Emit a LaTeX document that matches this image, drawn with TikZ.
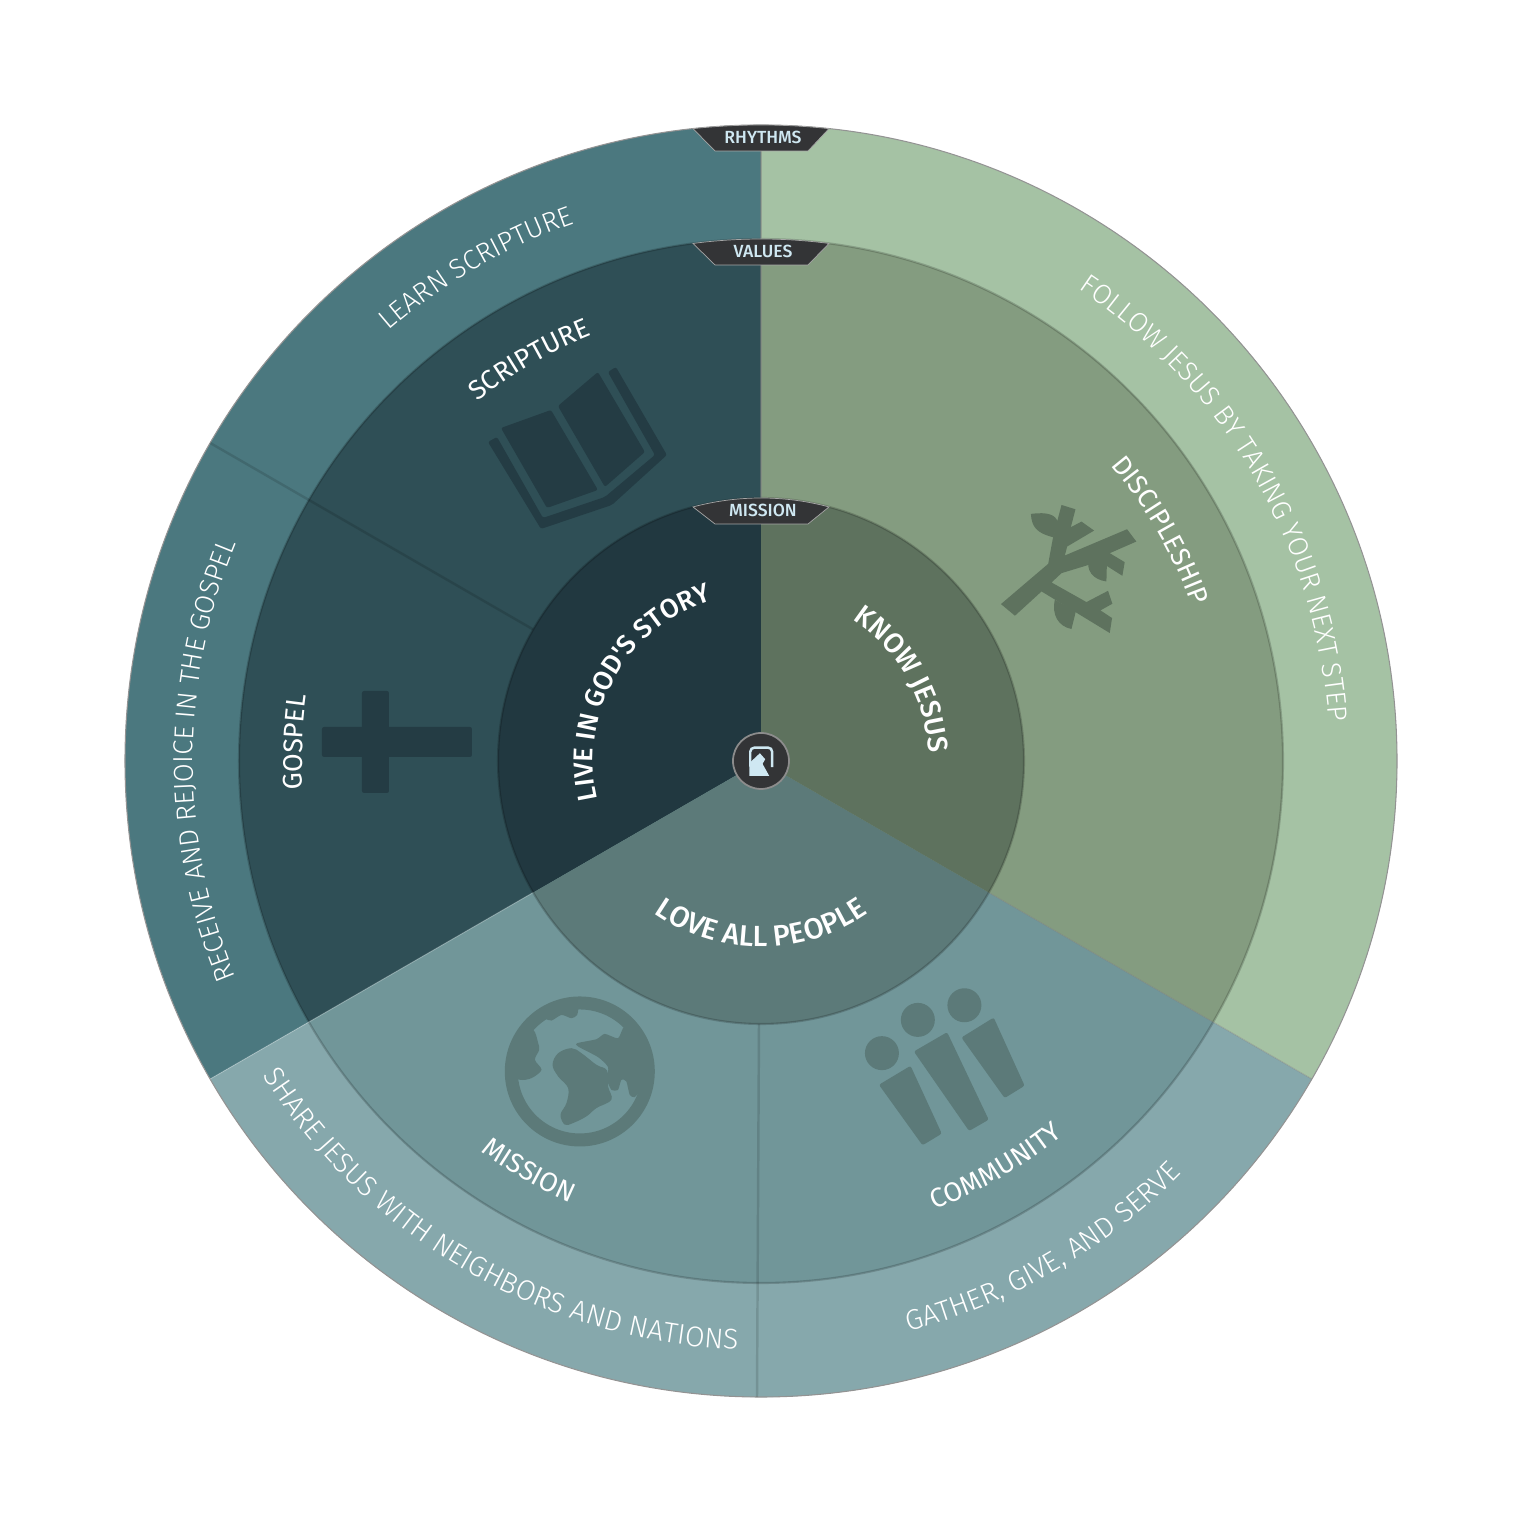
\documentclass[tikz,border=0pt]{standalone}
\usepackage{fontspec}
\usepackage{xcolor}
\usetikzlibrary{decorations.text}
\setmainfont{Fira Sans}
\newfontfamily\lightfont{Fira Sans}[UprightFont=* Light]
\newfontfamily\mediumfont{Fira Sans}[UprightFont=* Medium]
\definecolor{tealouter}{HTML}{4B787F}
\definecolor{tealmid}{HTML}{2F4F56}
\definecolor{tealinner}{HTML}{213840}
\definecolor{tealicon}{HTML}{243C44}
\definecolor{greenouter}{HTML}{A5C2A4}
\definecolor{greenmid}{HTML}{849C80}
\definecolor{greeninner}{HTML}{5E725E}
\definecolor{paleouter}{HTML}{86A8AC}
\definecolor{palemid}{HTML}{719699}
\definecolor{paleinner}{HTML}{5C7A79}
\definecolor{tagdark}{HTML}{333436}
\definecolor{tagtext}{HTML}{CFE8F2}
\newcommand{\ringfont}{\lightfont\fontsize{7.8}{9}\selectfont}
\newcommand{\lowringfont}{\lightfont\fontsize{8.1}{9}\selectfont}
\newcommand{\midfont}{\fontsize{7.7}{9}\selectfont}
\newcommand{\corefont}{\mediumfont\fontsize{8}{9}\selectfont}
\newcommand{\storyfont}{\mediumfont\fontsize{7.7}{9}\selectfont}
\newcommand{\peoplefont}{\mediumfont\fontsize{8.3}{9}\selectfont}
% text on an arc: radius, start angle, end angle, font, text
\newcommand{\arclabel}[5]{\path[decorate,decoration={text along path,text align=center,text color=white,text={|#4|#5}}] (#2:#1) arc[start angle=#2,end angle=#3,radius=#1];}
% dark tag on the top of a ring: radius, name, text
\newcommand{\ringtag}[3]{\fill[tagdark,draw=gray!70,line width=0.2pt] ({90+asin(0.68/#1)}:#1) arc[start angle={90+asin(0.68/#1)},end angle={90-asin(0.68/#1)},radius=#1] -- (0.47,#1-0.26) -- (-0.46,#1-0.26) -- cycle;
\node[tagtag] (#2) at (0.02,#1-0.12) {#3};}
\begin{document}
\begin{tikzpicture}[every node/.style={font=\small},
  ringline/.style={draw=black,draw opacity=0.18,line width=0.6pt},
  divider/.style={draw=black,draw opacity=0.13,line width=0.7pt},
  tagtag/.style={text=tagtext,inner sep=0pt,font=\mediumfont\fontsize{5}{5}\selectfont},
  darkicon/.style={fill=tealicon,rounded corners=0.6pt},
  paleicon/.style={fill=paleinner,rounded corners=0.6pt},
  greenicon/.style={fill=greeninner}]
\useasboundingbox (-7.61,-7.61) rectangle (7.61,7.61);
% outer ring
\fill[tealouter] (0,0) -- (90:6.36) arc[start angle=90,end angle=210,radius=6.36] -- cycle;
\fill[paleouter] (0,0) -- (210:6.36) arc[start angle=210,end angle=330,radius=6.36] -- cycle;
\fill[greenouter] (0,0) -- (-30:6.36) arc[start angle=-30,end angle=90,radius=6.36] -- cycle;
\draw[gray!85,line width=0.3pt] (0,0) circle[radius=6.36];
% middle ring
\fill[tealmid] (0,0) -- (90:5.22) arc[start angle=90,end angle=210,radius=5.22] -- cycle;
\fill[palemid] (0,0) -- (210:5.22) arc[start angle=210,end angle=330,radius=5.22] -- cycle;
\fill[greenmid] (0,0) -- (-30:5.22) arc[start angle=-30,end angle=90,radius=5.22] -- cycle;
\draw[ringline] (0,0) circle[radius=5.22];
% dividers
\draw[divider] (150:2.63) -- (150:6.36);
\draw[divider] (-0.02,-2.63) -- (-0.04,-6.36);
\draw[gray,draw opacity=0.5,line width=0.3pt] (0,2.63) -- (0,6.36);
\draw[white,draw opacity=0.25,line width=0.3pt] (210:2.63) -- (210:6.36);
\draw[gray,draw opacity=0.4,line width=0.3pt] (-30:2.63) -- (-30:6.36);
% inner ring
\fill[tealinner] (0,0) -- (90:2.63) arc[start angle=90,end angle=210,radius=2.63] -- cycle;
\fill[paleinner] (0,0) -- (210:2.63) arc[start angle=210,end angle=330,radius=2.63] -- cycle;
\fill[greeninner] (0,0) -- (-30:2.63) arc[start angle=-30,end angle=90,radius=2.63] -- cycle;
\draw[ringline] (0,0) circle[radius=2.63];
% outer texts
\arclabel{5.69}{65}{-5}{\ringfont}{FOLLOW JESUS BY TAKING YOUR NEXT STEP}
\arclabel{5.69}{150}{90}{\ringfont}{LEARN SCRIPTURE}
\arclabel{5.68}{210}{150}{\ringfont}{RECEIVE AND REJOICE IN THE GOSPEL}
\arclabel{5.89}{205}{275}{\lowringfont}{SHARE JESUS WITH NEIGHBORS AND NATIONS}
\arclabel{5.89}{265}{335}{\lowringfont}{GATHER, GIVE, AND SERVE}
% values
\arclabel{4.58}{60}{0}{\midfont}{DISCIPLESHIP}
\arclabel{4.58}{150}{90}{\midfont}{SCRIPTURE}
\arclabel{4.59}{207.7}{147.7}{\midfont}{GOSPEL}
\arclabel{4.81}{210.5}{270.5}{\midfont}{MISSION}
\arclabel{4.81}{270}{330}{\midfont}{COMMUNITY}
% mission
\arclabel{1.68}{70}{-10}{\corefont}{KNOW JESUS}
\arclabel{1.68}{210}{90}{\storyfont}{LIVE IN GOD'S STORY}
\arclabel{1.86}{220}{320}{\peoplefont}{LOVE ALL PEOPLE}
% book
\begin{scope}[shift={(-2.73cm,3.29cm)},x=0.01cm,y=-0.01cm]
\fill[darkicon] (13,-4) -- (63,-22) -- (110,58) -- (59,76) -- cycle;
\fill[darkicon] (70,-26) -- (110,-60) -- (157,20) -- (117,55) -- cycle;
\fill[darkicon] (0,10) -- (9,5) -- (55,86) -- (117,65) -- (167,23) -- (120,-60) -- (128,-65) -- (179,23) -- (124,73) -- (53,97) -- cycle;
\end{scope}
% cross
\fill[darkicon] (-3.99,0.70) rectangle (-3.72,-0.32);
\fill[darkicon] (-4.39,0.34) rectangle (-2.89,0.04);
% branch
\begin{scope}[shift={(2.29cm,2.71cm)},x=0.00333cm,y=-0.00333cm]
\fill[greenicon] (33,343) -- (175,222) -- (190,140) -- (215,45) -- (257,58) -- (243,112) -- (275,95) -- (313,122) -- (232,170) -- (225,197) -- (412,118) -- (440,155) -- (360,190) -- (405,217) -- (398,258) -- (330,215) -- (215,250) -- (185,278) -- (290,337) -- (355,303) -- (368,342) -- (332,362) -- (367,385) -- (360,430) -- (155,305) -- (75,378) -- cycle;
\fill[greenicon] (123,72) .. controls (175,65) and (195,75) .. (205,95) -- (190,142) .. controls (140,130) and (125,110) .. (123,72) -- cycle;
\fill[greenicon] (300,205) .. controls (285,240) and (310,270) .. (350,275) -- (352,200) -- cycle;
\fill[greenicon] (195,330) .. controls (185,375) and (205,410) .. (245,418) -- (258,365) -- cycle;
\end{scope}
% globe
\begin{scope}[shift={(-2.71cm,-2.19cm)},x=0.00333cm,y=-0.00333cm]
\draw[draw=paleinner,line width=3.7pt] (270,275) circle[radius=0.685cm];
\fill[paleinner] plot[smooth cycle,tension=0.5] coordinates {(130,150) (145,190) (148,210) (135,240) (155,270) (125,295) (90,300) (60,280) (60,200) (90,160)};
\fill[paleinner] plot[smooth cycle,tension=0.4] coordinates {(165,115) (185,122) (215,105) (245,115) (262,105) (262,75) (200,70) (150,95)};
\fill[paleinner] plot[smooth cycle,tension=0.6] coordinates {(188,255) (205,220) (245,205) (275,220) (320,255) (352,272) (355,320) (365,360) (320,385) (290,410) (250,430) (225,435) (212,405) (230,370) (235,325) (205,290)};
\fill[paleinner] plot[smooth cycle,tension=0.4] coordinates {(262,190) (320,178) (345,162) (385,175) (405,140) (450,180) (480,250) (460,320) (435,352) (420,345) (410,305) (395,300) (385,330) (365,330) (352,300) (355,262) (325,232) (265,200)};
\end{scope}
% people
\begin{scope}[shift={(0.89cm,-2.09cm)},x=0.00333cm,y=-0.00333cm]
\fill[paleinner] (96,250) circle[radius=0.17cm];
\fill[paleinner] (204,150) circle[radius=0.17cm];
\fill[paleinner] (344,106) circle[radius=0.17cm];
\fill[paleicon] (87,345) -- (182,288) -- (276,492) -- (218,527) -- cycle;
\fill[paleicon] (192,245) -- (292,187) -- (417,450) -- (358,484) -- cycle;
\fill[paleicon] (335,203) -- (432,143) -- (525,348) -- (465,385) -- cycle;
\end{scope}
% tags
\ringtag{6.36}{rhythms}{RHYTHMS}
\ringtag{5.22}{values}{VALUES}
\ringtag{2.63}{mission}{MISSION}
% hub
\node[circle,fill=tagdark,draw=black!45,line width=0.5pt,minimum size=0.56cm,inner sep=0pt] (hub) at (0,0) {};
\begin{scope}[shift={(-0.51cm,0.51cm)},x=0.00333cm,y=-0.00333cm]
\draw[tagtext,line width=0.7pt,rounded corners=1.2pt] (121,170) -- (121,113) -- (187,113) -- (187,172);
\fill[tagtext] (118,198) -- (118,160) -- (150,130) -- (166,148) -- (158,162) -- (178,198) -- cycle;
\end{scope}
\end{tikzpicture}
\end{document}
